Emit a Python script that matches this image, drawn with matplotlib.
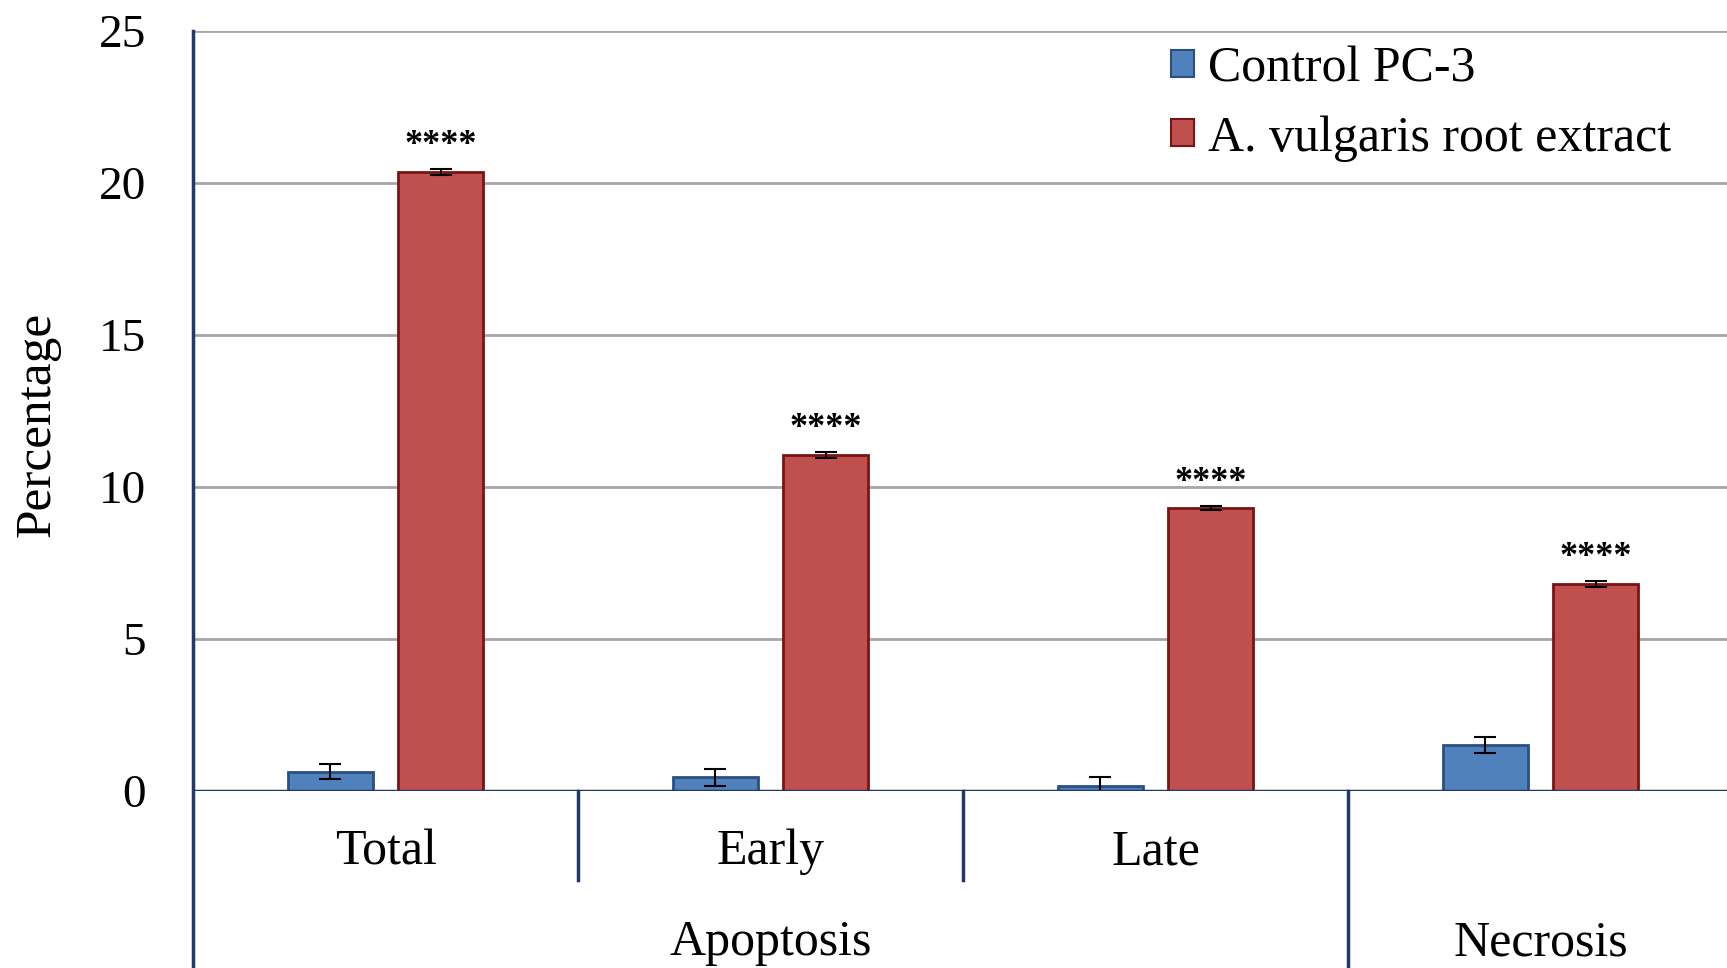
import matplotlib
matplotlib.use("Agg")
import matplotlib.pyplot as plt
from matplotlib.patches import Patch
import numpy as np

categories = ["Total", "Early", "Late", "Necrosis"]
sub_labels = ["Total", "Early", "Late", ""]
groups = ["Apoptosis", "Necrosis"]
series_names = ["Control PC-3", "A. vulgaris root extract"]
control_vals = [0.63, 0.45, 0.16, 1.51]
control_err = [0.25, 0.27, 0.30, 0.27]
extract_vals = [20.36, 11.05, 9.31, 6.80]
extract_err = [0.10, 0.10, 0.08, 0.10]
sig_labels = ["****", "****", "****", "****"]
yticks = [0, 5, 10, 15, 20, 25]

W, H = 1727, 968
fig = plt.figure(figsize=(W / 100, H / 100), dpi=100)
plt.rcParams['font.family'] = ['Liberation Serif', 'DejaVu Serif']

left_px, right_px, y0_px, y25_px = 193, 1733, 791, 31
ax = fig.add_axes([left_px / W, 1 - y0_px / H, (right_px - left_px) / W, (y0_px - y25_px) / H])

navy = "#1F3A68"
blue_fc, blue_ec = "#4F81BD", "#2B4F80"
red_fc, red_ec = "#C0504D", "#7A1414"
TXT = 36

x = np.arange(len(categories))
off, bw = 0.143, 0.22
ax.bar(x - off, control_vals, bw, color=blue_fc, edgecolor=blue_ec, linewidth=2, zorder=3,
       label=series_names[0])
ax.bar(x + off, extract_vals, bw, color=red_fc, edgecolor=red_ec, linewidth=2, zorder=3,
       label=series_names[1])
ax.errorbar(x - off, control_vals, yerr=control_err, fmt='none', ecolor='black',
            elinewidth=1.5, capsize=8, capthick=1.5, zorder=4)
ax.errorbar(x + off, extract_vals, yerr=extract_err, fmt='none', ecolor='black',
            elinewidth=1.5, capsize=8, capthick=1.5, zorder=4)

for xi, v, e, s in zip(x + off, extract_vals, extract_err, sig_labels):
    ax.annotate(s, (xi, v + e), xytext=(0, 5), textcoords='offset points',
                ha='center', va='bottom', fontsize=26, fontweight='bold')

ax.set_xlim(-0.5, len(categories) - 0.5)
ax.set_ylim(0, 25)
ax.set_yticks(yticks)
ax.set_yticklabels([str(t) for t in yticks], fontsize=34)
ax.tick_params(axis='y', length=0, pad=34)
ax.set_xticks([])
ax.grid(axis='y', color='#A6A6A6', linewidth=2, zorder=0)
ax.set_axisbelow(True)
for sp in ['top', 'right', 'bottom', 'left']:
    ax.spines[sp].set_visible(False)

ax.axhline(0, color=navy, linewidth=2.5, zorder=5)
tr = ax.get_xaxis_transform()
ymin_short = (y0_px - 880) / (y0_px - y25_px)
ymin_long = (y0_px - H) / (y0_px - y25_px)
ax.plot([-0.5, -0.5], [ymin_long, 1], transform=tr, color=navy, linewidth=2.5, clip_on=False, zorder=5)
for xs, ym in [(0.5, ymin_short), (1.5, ymin_short), (2.5, ymin_long)]:
    ax.plot([xs, xs], [ym, 0], transform=tr, color=navy,
            linewidth=2.5, clip_on=False, zorder=5)

lab_y = (y0_px - 852) / (y0_px - y25_px)
grp_y = (y0_px - 943) / (y0_px - y25_px)
for xi, c in zip(x, sub_labels):
    if c:
        ax.text(xi, lab_y, c, transform=tr, ha='center', va='center', fontsize=TXT)
ax.text(1.0, grp_y, groups[0], transform=tr, ha='center', va='center', fontsize=TXT)
ax.text(3.0, grp_y, groups[1], transform=tr, ha='center', va='center', fontsize=TXT)

fig.text(37 / W, 1 - 424 / H, "Percentage", rotation=90, ha='center', va='center', fontsize=TXT + 1)

handles = [Patch(facecolor=blue_fc, edgecolor=blue_ec, linewidth=1.5),
           Patch(facecolor=red_fc, edgecolor=red_ec, linewidth=1.5)]
fig.legend(handles, series_names, loc='upper left', bbox_to_anchor=(1171 / W, 1 - 46 / H),
           frameon=False, fontsize=TXT, handlelength=0.45, handleheight=0.45,
           handletextpad=0.3, labelspacing=0.45, borderpad=0, borderaxespad=0)

fig.savefig("out.png", dpi=100)
